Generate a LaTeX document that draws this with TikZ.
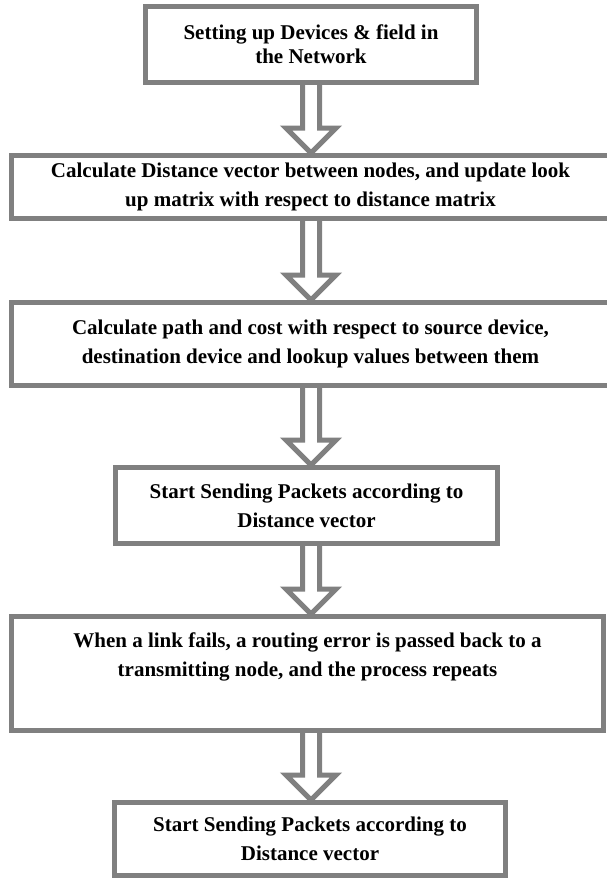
\documentclass[tikz,border=0pt]{standalone}
\usepackage{fontspec}
\setmainfont{Liberation Serif}
\usetikzlibrary{calc}

\definecolor{boxgray}{RGB}{128,128,128}

\tikzset{
    stepbox/.style={draw=boxgray, line width=5pt, align=center, inner sep=0pt,
        font=\bfseries\fontsize{21}{29}\selectfont},
    hollow/.style={draw=boxgray, line width=5pt}
}

\begin{document}
\begin{tikzpicture}[x=1pt, y=1pt]
    \useasboundingbox (0,0) rectangle (607,-879);

    \node[stepbox, minimum width=331, minimum height=76,
        font=\bfseries\fontsize{21}{24}\selectfont] (b1) at (311,-44.5)
        {Setting up Devices \& field in\\the Network};
    \node[stepbox, minimum width=598, minimum height=63] (b2) at (310.5,-187)
        {Calculate Distance vector between nodes, and update look\\up matrix with respect to distance matrix};
    \node[stepbox, minimum width=598, minimum height=83] (b3) at (310.5,-344)
        {Calculate path and cost with respect to source device,\\destination device and lookup values between them};
    \node[stepbox, minimum width=382, minimum height=76] (b4) at (306.5,-505.5)
        {Start Sending Packets according to\\Distance vector};
    \node[stepbox, minimum width=592, minimum height=114] (b5) at (307.5,-673.5)
        {When a link fails, a routing error is passed back to a\\transmitting node, and the process repeats\\\strut};
    \node[stepbox, minimum width=391, minimum height=73] (b6) at (310,-839)
        {Start Sending Packets according to\\Distance vector};

    \coordinate (axis) at (311,0);
    \foreach \from/\to in {b1/b2, b2/b3, b3/b4, b4/b5, b5/b6}
        \draw[hollow] ($(\from.south -| axis)+(-8.5,0)$) -- ($(\to.north -| axis)+(-8.5,25)$)
            -- ++(-16.5,0) -- (\to.north -| axis) -- ++(25,25) -- ++(-16.5,0)
            -- ($(\from.south -| axis)+(8.5,0)$);
\end{tikzpicture}
\end{document}
